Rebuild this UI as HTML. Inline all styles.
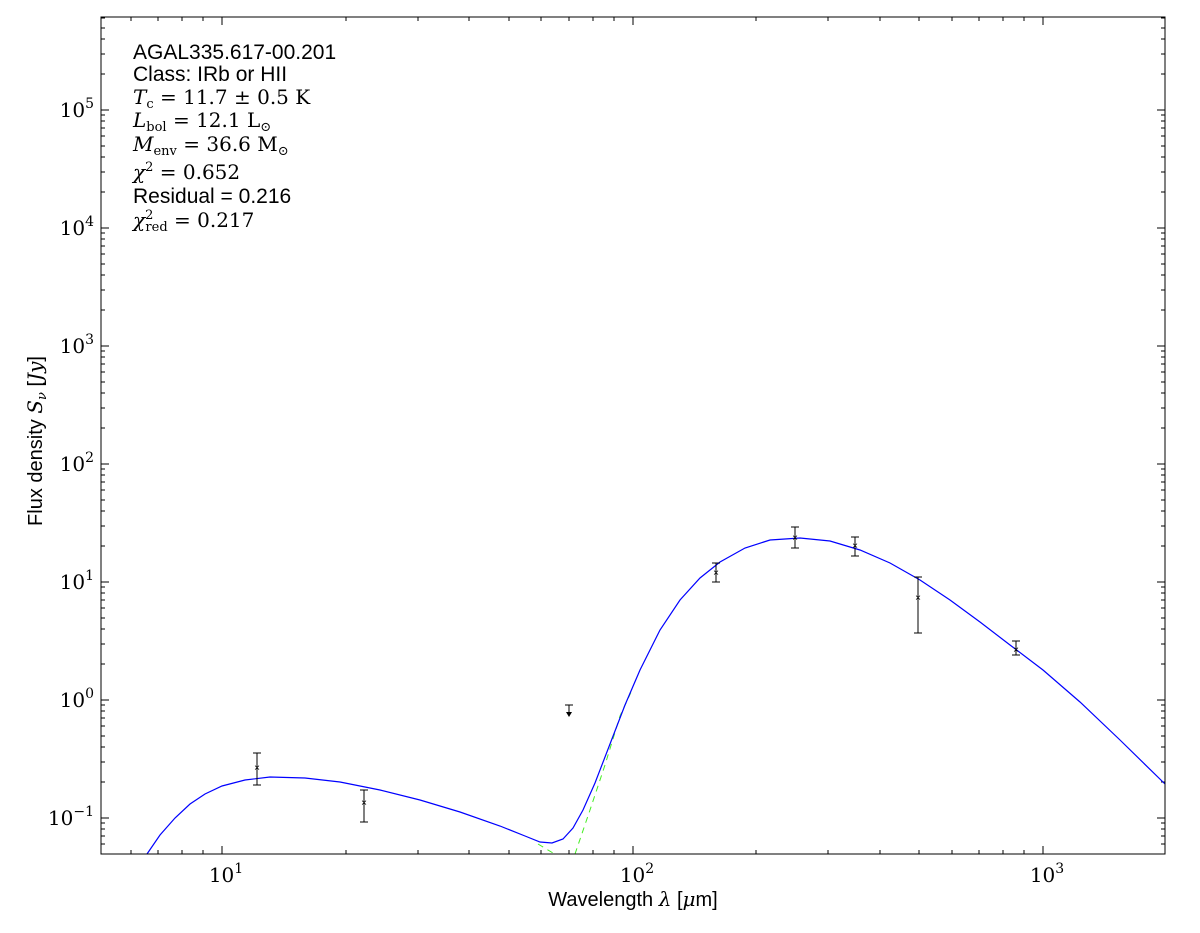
<!DOCTYPE html>
<html><head><meta charset="utf-8"><style>
body{margin:0;background:#fff;}
svg{display:block;}
.s{font-family:"Liberation Sans",sans-serif;}
.m{font-family:"DejaVu Serif","Liberation Serif",serif;}
</style></head><body>
<svg id="g" width="1200" height="933" xmlns="http://www.w3.org/2000/svg">
<rect x="0" y="0" width="1200" height="933" fill="#fff"/>
<g id="ticks" stroke="#000" stroke-width="1" shape-rendering="crispEdges"></g>
<path fill="none" stroke-width="1" stroke-dasharray="6,5" style="stroke:#44ee22" d="M538,844 L553,853 M575,854 L590,810 L605,765 L620,716 L632,690"/>
<path fill="none" stroke="#0000ff" stroke-width="1.2" d="M147,854 L160,835 L175,818 L190,804 L205,794 L222,786 L245,780 L270,777 L305,778 L340,782 L380,790 L420,800 L460,812 L500,826 L525,836 L540,842 L552,843 L563,839 L573,828 L583,810 L595,783 L610,744 L625,705 L640,670 L660,630 L680,600 L700,578 L720,562 L745,548 L770,540 L800,538 L830,541 L860,550 L890,563 L920,580 L950,600 L980,622 L1010,645 L1043,670 L1080,702 L1120,740 L1165,784"/>
<g stroke="#000" stroke-width="1" fill="none" shape-rendering="crispEdges">
<path d="M257,753V785M253,753H261M253,785H261"/>
<path d="M364,790V822M360,790H368M360,822H368"/>
<path d="M716,563V582M712,563H720M712,582H720"/>
<path d="M795,527V548M791,527H799M791,548H799"/>
<path d="M855,537V556M851,537H859M851,556H859"/>
<path d="M918,577V633M914,577H922M914,633H922"/>
<path d="M1016,641V655M1012,641H1020M1012,655H1020"/>
<path d="M569,705V714M565,705H573"/>
</g>
<path d="M566,712 L572,712 L569,717Z" fill="#000"/>
<g font-family="Liberation Sans" font-size="10" text-anchor="middle">
<text x="257" y="771">×</text><text x="364" y="806">×</text><text x="716" y="576">×</text>
<text x="795" y="541">×</text><text x="855" y="549">×</text><text x="918" y="601">×</text><text x="1016" y="653">×</text>
</g>
<rect x="101" y="17" width="1064" height="837" fill="none" stroke="#000" stroke-width="1" shape-rendering="crispEdges"/>
<g font-size="20">
<text class="s" x="133" y="59" font-size="21">AGAL335.617-00.201</text>
<text class="s" x="133" y="81" font-size="21">Class: IRb or HII</text>
<text class="m" x="133" y="104" font-style="italic">T<tspan font-size="13" font-style="normal" dy="4">c</tspan><tspan dy="-4" font-style="normal"> = 11.7 ± 0.5 K</tspan></text>
<text class="m" x="133" y="127" font-style="italic">L<tspan font-size="13" font-style="normal" dy="4">bol</tspan><tspan dy="-4" font-style="normal"> = 12.1 L</tspan><tspan font-size="13" font-style="normal" dy="4">⊙</tspan></text>
<text class="m" x="133" y="151" font-style="italic">M<tspan font-size="13" font-style="normal" dy="4">env</tspan><tspan dy="-4" font-style="normal"> = 36.6 M</tspan><tspan font-size="13" font-style="normal" dy="4">⊙</tspan></text>
<text class="m" x="133" y="179" font-style="italic">χ<tspan font-size="13" font-style="normal" dy="-8">2</tspan><tspan dy="8" font-style="normal"> = 0.652</tspan></text>
<text class="s" x="133" y="203" font-size="21">Residual = 0.216</text>
<text class="m" x="133" y="227" font-style="italic">χ<tspan font-size="13" font-style="normal" dy="-8">2</tspan><tspan font-size="13" font-style="normal" dx="-8" dy="12">red</tspan><tspan dy="-4" font-style="normal"> = 0.217</tspan></text>
</g>
<text class="s" x="633" y="906" font-size="20" text-anchor="middle">Wavelength <tspan font-family="DejaVu Serif" font-style="italic">λ</tspan> [<tspan font-family="DejaVu Serif" font-style="italic">μ</tspan>m]</text>
<text class="s" transform="translate(42,441) rotate(-90)" font-size="20" text-anchor="middle">Flux density <tspan font-family="DejaVu Serif" font-style="italic">S<tspan font-size="13" dy="4">ν</tspan></tspan><tspan dy="-4"> [</tspan><tspan font-family="DejaVu Serif" font-style="italic">Jy</tspan>]</text>
<g id="lab" class="m" font-size="20"></g>
</svg>
<script>
var t=document.getElementById('ticks'),l=document.getElementById('lab'),ns='http://www.w3.org/2000/svg';
function ln(x1,y1,x2,y2){var e=document.createElementNS(ns,'line');e.setAttribute('x1',x1);e.setAttribute('y1',y1);e.setAttribute('x2',x2);e.setAttribute('y2',y2);t.appendChild(e);}
function tx(x,y,e,anchor){var g=document.createElementNS(ns,'text');g.setAttribute('x',x);g.setAttribute('y',y);g.setAttribute('text-anchor',anchor);g.innerHTML='10<tspan font-size="14" dy="-9">'+e+'</tspan>';l.appendChild(g);}
var X=function(v){return Math.round(222+(Math.log10(v)-1)*410.5);};
for(var d=0;d<=3;d++)for(var k=1;k<10;k++){var v=k*Math.pow(10,d);var x=X(v);if(x<101||x>1165)continue;var L=k==1?8:4;ln(x,854,x,854-L);ln(x,17,x,17+L);if(k==1)tx(x+4,882,d,'middle');}
var Y=function(v){return Math.round(818-(Math.log10(v)+1)*118);};
for(var d=-2;d<=5;d++)for(var k=1;k<10;k++){var v=k*Math.pow(10,d);var y=Y(v);if(y<17||y>854)continue;var L=k==1?8:4;ln(101,y,101+L,y);ln(1165,y,1165-L,y);if(k==1)tx(94,y+7,d<0?'−1':d,'end');}
</script>
</body></html>
